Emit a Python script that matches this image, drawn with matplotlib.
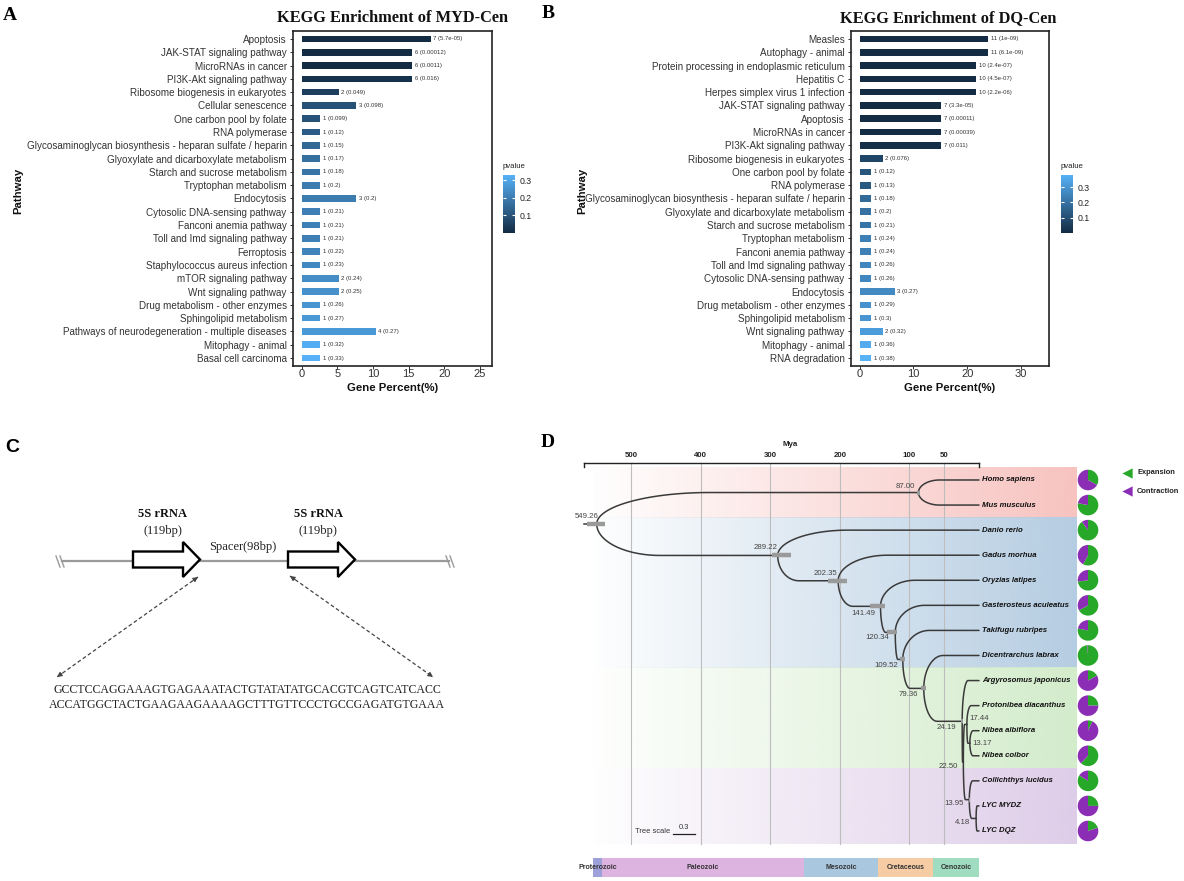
import numpy as np
import matplotlib
matplotlib.use("Agg")
import matplotlib.pyplot as plt
from matplotlib.colors import LinearSegmentedColormap, Normalize, to_rgb
from matplotlib.cm import ScalarMappable
from matplotlib.patches import Polygon

W, H = 1184, 881
SANS = ['Liberation Sans', 'DejaVu Sans']
SERIF = ['Liberation Serif', 'DejaVu Serif']
plt.rcParams['font.family'] = SANS

# ---------------- data: panel A ----------------
a_pathways = ["Apoptosis", "JAK-STAT signaling pathway", "MicroRNAs in cancer",
              "PI3K-Akt signaling pathway", "Ribosome biogenesis in eukaryotes",
              "Cellular senescence", "One carbon pool by folate", "RNA polymerase",
              "Glycosaminoglycan biosynthesis - heparan sulfate / heparin",
              "Glyoxylate and dicarboxylate metabolism", "Starch and sucrose metabolism",
              "Tryptophan metabolism", "Endocytosis", "Cytosolic DNA-sensing pathway",
              "Fanconi anemia pathway", "Toll and Imd signaling pathway", "Ferroptosis",
              "Staphylococcus aureus infection", "mTOR signaling pathway",
              "Wnt signaling pathway", "Drug metabolism - other enzymes",
              "Sphingolipid metabolism", "Pathways of neurodegeneration - multiple diseases",
              "Mitophagy - animal", "Basal cell carcinoma"]
a_counts = [7, 6, 6, 6, 2, 3, 1, 1, 1, 1, 1, 1, 3, 1, 1, 1, 1, 1, 2, 2, 1, 1, 4, 1, 1]
a_percent = [18.1, 15.5, 15.5, 15.5, 5.2, 7.7, 2.6, 2.6, 2.6, 2.6, 2.6, 2.6, 7.7, 2.6,
             2.6, 2.6, 2.6, 2.6, 5.2, 5.2, 2.6, 2.6, 10.4, 2.6, 2.6]
a_pvalues = ["5.7e-05", "0.00012", "0.0011", "0.016", "0.049", "0.098", "0.099", "0.12",
             "0.15", "0.17", "0.18", "0.2", "0.2", "0.21", "0.21", "0.21", "0.22", "0.23",
             "0.24", "0.25", "0.26", "0.27", "0.27", "0.32", "0.33"]

# ---------------- data: panel B ----------------
b_pathways = ["Measles", "Autophagy - animal", "Protein processing in endoplasmic reticulum",
              "Hepatitis C", "Herpes simplex virus 1 infection", "JAK-STAT signaling pathway",
              "Apoptosis", "MicroRNAs in cancer", "PI3K-Akt signaling pathway",
              "Ribosome biogenesis in eukaryotes", "One carbon pool by folate", "RNA polymerase",
              "Glycosaminoglycan biosynthesis - heparan sulfate / heparin",
              "Glyoxylate and dicarboxylate metabolism", "Starch and sucrose metabolism",
              "Tryptophan metabolism", "Fanconi anemia pathway", "Toll and Imd signaling pathway",
              "Cytosolic DNA-sensing pathway", "Endocytosis", "Drug metabolism - other enzymes",
              "Sphingolipid metabolism", "Wnt signaling pathway", "Mitophagy - animal",
              "RNA degradation"]
b_counts = [11, 11, 10, 10, 10, 7, 7, 7, 7, 2, 1, 1, 1, 1, 1, 1, 1, 1, 1, 3, 1, 1, 2, 1, 1]
b_percent = [23.9, 23.9, 21.7, 21.7, 21.7, 15.2, 15.2, 15.2, 15.2, 4.3, 2.2, 2.2, 2.2, 2.2,
             2.2, 2.2, 2.2, 2.2, 2.2, 6.5, 2.2, 2.2, 4.3, 2.2, 2.2]
b_pvalues = ["1e-09", "6.1e-09", "2.4e-07", "4.5e-07", "2.2e-06", "3.3e-05", "0.00011",
             "0.00039", "0.011", "0.076", "0.12", "0.13", "0.18", "0.2", "0.21", "0.24",
             "0.24", "0.26", "0.26", "0.27", "0.29", "0.3", "0.32", "0.36", "0.38"]

# ---------------- data: panel C ----------------
seq_line1 = "GCCTCCAGGAAAGTGAGAAATACTGTATATATGCACGTCAGTCATCACC"
seq_line2 = "ACCATGGCTACTGAAGAAGAAAAGCTTTGTTCCCTGCCGAGATGTGAAA"

# ---------------- data: panel D ----------------
species = ["Homo sapiens", "Mus musculus", "Danio rerio", "Gadus morhua", "Oryzias latipes",
           "Gasterosteus aculeatus", "Takifugu rubripes", "Dicentrarchus labrax",
           "Argyrosomus japonicus", "Protonibea diacanthus", "Nibea albiflora",
           "Nibea coibor", "Collichthys lucidus", "LYC MYDZ", "LYC DQZ"]
expansion = [0.33, 0.78, 0.90, 0.58, 0.73, 0.67, 0.78, 0.99, 0.17, 0.25, 0.07, 0.62, 0.84, 0.25, 0.20]
contraction = [0.67, 0.22, 0.10, 0.42, 0.27, 0.33, 0.22, 0.01, 0.83, 0.75, 0.93, 0.38, 0.16, 0.75, 0.80]
# tree: (age in Mya, children); integers are species indices
tree = (549.26, [(87.00, [0, 1]),
                 (289.22, [2, (202.35, [3, (141.49, [4, (120.34, [5, (109.52, [6, (79.36, [7,
                  (24.19, [8, (22.50, [(17.44, [9, (13.17, [10, 11])]),
                                       (13.95, [12, (4.18, [13, 14])])])])])])])])])])])
hpd = {549.26: (563, 537), 289.22: (297, 270), 202.35: (217, 190), 141.49: (157, 135),
       120.34: (132, 118), 109.52: (114, 106), 87.00: (89, 85), 79.36: (83, 76),
       24.19: (26, 22.5), 13.95: (15, 13)}
mya_ticks = [500, 400, 300, 200, 100, 50]
eras = ["Proterozoic", "Paleozoic", "Mesozoic", "Cretaceous", "Cenozoic"]
era_bounds = [555, 541, 252, 145, 66, 0]
era_colors = ["#9EA0DA", "#DDB3E0", "#A9C7DE", "#F6CCA5", "#A0DCBF"]
band_rows = [(-0.5, 1.5), (1.5, 7.5), (7.5, 11.5), (11.5, 14.5)]
band_colors = ["#F7C3C0", "#B5CDE2", "#D3ECCB", "#DECDE8"]

fig = plt.figure(figsize=(W / 100, H / 100), dpi=100)


def px_axes(x0, y0, x1, y1):
    return fig.add_axes([x0 / W, 1 - y1 / H, (x1 - x0) / W, (y1 - y0) / H])


def ftext(x, y, s, **kw):
    return fig.text(x / W, 1 - y / H, s, **kw)


cmap = LinearSegmentedColormap.from_list("gg", ["#132B43", "#56B1F7"])


def enrich_panel(box, cbox, pathways, counts, percents, pvals, xlim, xticks, title, title_x,
                 ylab_x, cb_ticks):
    x0, y0, x1, y1 = box
    ax = px_axes(x0, y0, x1, y1)
    p = np.array([float(v) for v in pvals])
    norm = Normalize(p.min(), p.max())
    y = np.arange(len(pathways))
    ax.barh(y, percents, height=0.5, color=cmap(norm(p)), linewidth=0)
    for yi, pc, c, ps in zip(y, percents, counts, pvals):
        ax.text(pc + 0.35 * (xlim[1] - xlim[0]) / 28, yi, f"{c} ({ps})", va='center', ha='left',
                fontsize=4.3, color='#333333')
    ax.set_ylim(len(pathways) - 0.4, -0.6)
    ax.set_xlim(*xlim)
    ax.set_yticks(y)
    ax.set_yticklabels(pathways, fontsize=7.1, color='#333333')
    ax.set_xticks(xticks)
    ax.set_xticklabels([str(v) for v in xticks], fontsize=8.0, color='#333333')
    ax.tick_params(axis='y', length=2.5, width=0.7, color='#333333', pad=2)
    ax.tick_params(axis='x', length=2.0, width=0.7, color='#333333', pad=0.5)
    for s in ax.spines.values():
        s.set_linewidth(1.2)
        s.set_color('#222222')
    ftext((x0 + x1) / 2, 388, "Gene Percent(%)", ha='center', va='center', fontsize=8.2,
          fontweight='bold', color='#111111')
    ftext(ylab_x, (y0 + y1) / 2 - 8, "Pathway", ha='center', va='center', rotation=90,
          fontsize=8.2, fontweight='bold', color='#111111')
    ftext(title_x, 18, title, ha='center', va='center', fontsize=11.8, fontweight='bold',
          family=SERIF, color='#111111')
    cx0, cy0, cx1, cy1 = cbox
    cax = px_axes(cx0, cy0, cx1, cy1)
    cb = fig.colorbar(ScalarMappable(norm=norm, cmap=cmap), cax=cax)
    cb.outline.set_visible(False)
    cb.set_ticks(cb_ticks)
    cax.yaxis.set_ticks_position('both')
    cax.tick_params(axis='y', direction='in', length=2.5, width=0.8, color='white',
                    labelsize=6.3, labelcolor='#222222', pad=3, labelleft=False, labelright=True)
    ftext(cx0, cy0 - 8, "pvalue", ha='left', va='center', fontsize=5.6, color='#222222')
    return ax


enrich_panel((293, 31, 492, 366), (503, 175, 515, 233), a_pathways, a_counts, a_percent,
             a_pvalues, (-1.2, 26.7), [0, 5, 10, 15, 20, 25], "KEGG Enrichment of MYD-Cen",
             393, 18, [0.1, 0.2, 0.3])
enrich_panel((851, 31, 1049, 366), (1061, 175, 1073, 233), b_pathways, b_counts, b_percent,
             b_pvalues, (-1.6, 35.2), [0, 10, 20, 30], "KEGG Enrichment of DQ-Cen",
             948, 582, [0.1, 0.2, 0.3])

# panel letters
ftext(10, 15, "A", ha='center', va='center', fontsize=14, fontweight='bold', family=SERIF)
ftext(548, 14, "B", ha='center', va='center', fontsize=14, fontweight='bold', family=SERIF)
ftext(12, 448, "C", ha='center', va='center', fontsize=14, fontweight='bold', family=SANS)
ftext(548, 443, "D", ha='center', va='center', fontsize=14, fontweight='bold', family=SERIF)

# ---------------- panel C: schematic ----------------
axC = px_axes(0, 420, 560, 881)
axC.set_xlim(0, 560)
axC.set_ylim(881, 420)
axC.axis('off')
line_y = 561
axC.plot([62, 449], [line_y, line_y], color='#9a9a9a', lw=1.6, zorder=1)
for xs in (56, 60, 446, 450):
    axC.plot([xs, xs + 4], [556, 567], color='#9a9a9a', lw=1.0, zorder=1)


def block_arrow(xt, xh, xtip, yc):
    verts = [(xt, yc - 8), (xh, yc - 8), (xh, yc - 17.5), (xtip, yc), (xh, yc + 17.5),
             (xh, yc + 8), (xt, yc + 8)]
    axC.add_patch(Polygon(verts, closed=True, fc='white', ec='black', lw=1.7, zorder=3,
                          joinstyle='miter'))


block_arrow(133, 183, 200, 559.5)
block_arrow(288, 338, 355, 559.5)
for xc in (163, 318):
    axC.text(xc, 514, "5S rRNA", ha='center', va='center', fontsize=9, fontweight='bold',
             family=SERIF, color='#111111')
    axC.text(xc, 531, "(119bp)", ha='center', va='center', fontsize=9, family=SERIF,
             color='#222222')
axC.text(243, 547, "Spacer(98bp)", ha='center', va='center', fontsize=9, family=SERIF,
         color='#222222')
for (xa, ya), (xb, yb) in [((198, 577), (57, 677)), ((290, 576), (433, 677))]:
    axC.plot([xa, xb], [ya, yb], color='#444444', lw=0.9, ls=(0, (3, 2)))
    for (p, q) in [((xa, ya), (xb, yb)), ((xb, yb), (xa, ya))]:
        d = np.array(q) - np.array(p)
        d = d / np.hypot(*d)
        axC.annotate("", xy=q, xytext=(q[0] - 6 * d[0], q[1] - 6 * d[1]),
                     arrowprops=dict(arrowstyle='-|>', color='#444444', lw=0.8,
                                     mutation_scale=7, shrinkA=0, shrinkB=0))
axC.text(247, 690, seq_line1, ha='center', va='center', fontsize=8.6, family=SERIF,
         color='#222222')
axC.text(247, 705, seq_line2, ha='center', va='center', fontsize=8.6, family=SERIF,
         color='#222222')

# ---------------- panel D: chronogram ----------------
axD = px_axes(560, 430, 1184, 881)
XL = (602.0, -294.5)
YL = (15.995, -1.994)
axD.axis('off')

# gradient bands
for (r0, r1), col in zip(band_rows, band_colors):
    arr = np.zeros((1, 256, 4))
    arr[..., :3] = to_rgb(col)
    arr[..., 3] = np.linspace(0.02, 1.0, 256)
    axD.imshow(arr, extent=(555, -139, r1, r0), aspect='auto', interpolation='bilinear',
               zorder=0)

axis_row = -0.678
for t in mya_ticks:
    axD.plot([t, t], [axis_row, 14.5], color='#bdbdbd', lw=0.8, zorder=1)
    axD.text(t, -0.96, str(t), ha='center', va='center', fontsize=5.7, fontweight='bold',
             color='#222222')
axD.plot([567, 0], [axis_row, axis_row], color='#222222', lw=1.0, zorder=2)
for t in (567, 0):
    axD.plot([t, t], [axis_row, axis_row + 0.15], color='#222222', lw=1.0)
axD.text(272, -1.40, "Mya", ha='center', va='center', fontsize=5.7, fontweight='bold',
         color='#222222')


def layout(node):
    if isinstance(node, int):
        return 0.0, float(node)
    age, kids = node
    return age, float(np.mean([layout(k)[1] for k in kids]))


def branch(tp, yp, tc, yc):
    span = 0.35 * (tp - tc)
    th = np.linspace(0, np.pi / 2, 40)
    xs = list(tp - span * (1 - np.cos(th))) + [tc]
    ys = list(yp + (yc - yp) * np.sin(th)) + [yc]
    axD.plot(xs, ys, color='#3a3a3a', lw=1.1, zorder=4, solid_capstyle='round')


label_pos = {549.26: (2, 4, 'right', 'bottom'), 87.00: (-3, 3, 'right', 'bottom'),
             289.22: (0, 4, 'right', 'bottom'), 202.35: (-1, 4, 'right', 'bottom'),
             141.49: (-5, -4, 'right', 'top'), 120.34: (-6, -2, 'right', 'top'),
             109.52: (-5, -3, 'right', 'top'), 79.36: (-6, -3, 'right', 'top'),
             24.19: (-6, -3, 'right', 'top'), 22.50: (-5, -1, 'right', 'top'),
             17.44: (2, 2, 'left', 'bottom'), 13.17: (3, 0, 'left', 'center'),
             13.95: (-6, 0, 'right', 'top'), 4.18: (-6, -1, 'right', 'top')}


def draw(node):
    if isinstance(node, int):
        return
    t, y = layout(node)
    for k in node[1]:
        tc, yc = layout(k)
        branch(t, y, tc, yc)
        draw(k)
    if t in hpd:
        lo, hi = hpd[t]
        axD.plot([lo, hi], [y, y], color='#9a9a9a', lw=3.2, solid_capstyle='butt', zorder=5)
    dx, dy, ha, va = label_pos[t]
    axD.annotate(f"{t:.2f}", xy=(t, y), xytext=(dx, dy), textcoords='offset pixels',
                 ha=ha, va=va, fontsize=5.6, color='#444444', zorder=6)


root_t, root_y = layout(tree)
axD.plot([567, root_t], [root_y, root_y], color='#3a3a3a', lw=1.1, zorder=4)
draw(tree)

for i, name in enumerate(species):
    axD.text(-4, i, name, ha='left', va='center', fontsize=5.6, fontweight='bold',
             fontstyle='italic', color='#111111')

# geologic time bar
for name, t0, t1, col in zip(eras, era_bounds[:-1], era_bounds[1:], era_colors):
    axD.barh(15.46, t0 - t1, left=t1, height=0.76, color=col, linewidth=0)
    axD.text((t0 + t1) / 2, 15.46, name, ha='center', va='center', fontsize=5.0,
             fontweight='bold', color='#333333')

# tree scale
axD.text(444, 14.04, "Tree scale", ha='right', va='center', fontsize=5.4, color='#333333')
axD.plot([440, 408], [14.12, 14.12], color='#222222', lw=0.9)
axD.text(424, 13.86, "0.3", ha='center', va='center', fontsize=5.4, color='#333333')

# legend
GREEN, PURPLE = "#28A828", "#8C2DB5"
for rr, lab, col in [(-0.28, "Expansion", GREEN), (0.44, "Contraction", PURPLE)]:
    axD.scatter([-213], [rr], marker='<', s=55, color=col, linewidths=0, zorder=6)
    axD.text(-227, rr, lab, ha='left', va='center', fontsize=5.4, fontweight='bold',
             color='#222222')

axD.set_xlim(*XL)
axD.set_ylim(*YL)

# pies
pie_t = -156.6
rad = 10.5
for i, (e, c) in enumerate(zip(expansion, contraction)):
    xd, yd = axD.transData.transform((pie_t, i))
    pax = fig.add_axes([(xd - rad) / W, (yd - rad) / H, 2 * rad / W, 2 * rad / H])
    pax.pie([e, c], colors=[GREEN, PURPLE], startangle=90, counterclock=False,
            wedgeprops=dict(linewidth=0))
    pax.set_xlim(-1.02, 1.02)
    pax.set_ylim(-1.02, 1.02)
    pax.set_aspect('equal')
    pax.axis('off')

fig.savefig("out.png", dpi=100)
